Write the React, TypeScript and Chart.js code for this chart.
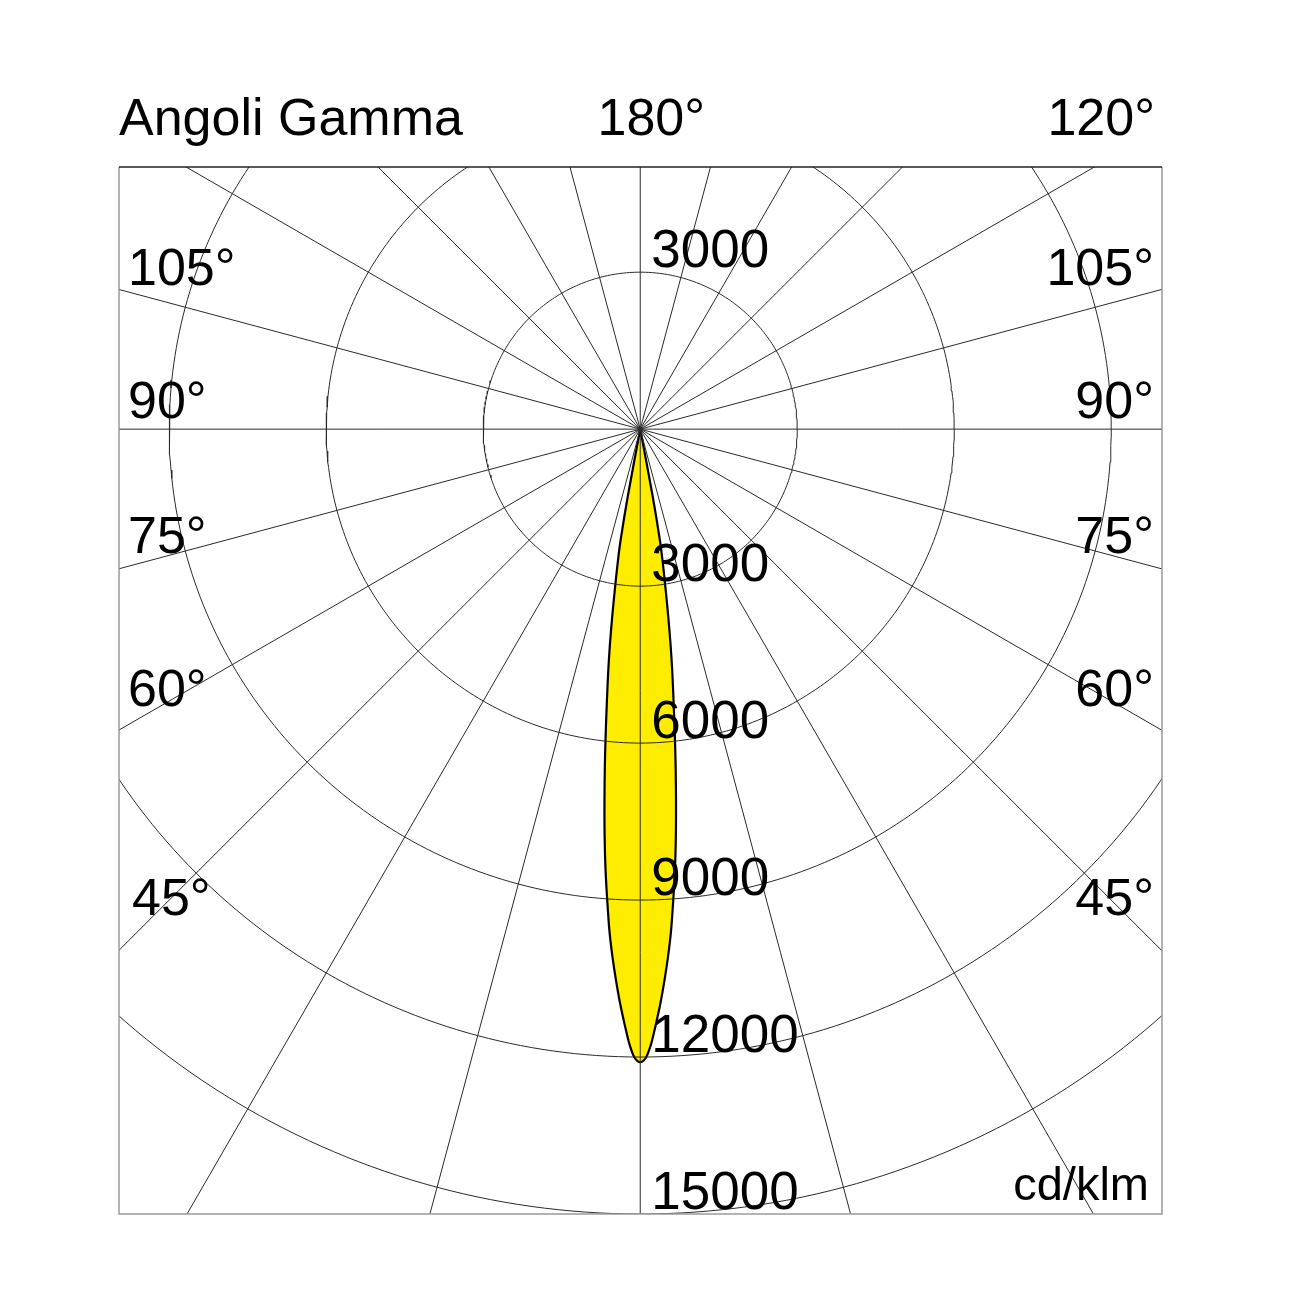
import React, { useEffect, useRef } from "react";
import { Chart, registerables } from "chart.js";

Chart.register(...registerables);

// Photometric curve: gamma angle (deg) and intensity (cd/klm)
const gammaAngles = [
  -11, -10.5, -10, -9.5, -9, -8.5, -8, -7.5, -7, -6.5, -6, -5.5, -5, -4.5, -4, -3.5, -3, -2.5, -2, -1.5, -1, -0.5,
  0,
  0.5, 1, 1.5, 2, 2.5, 3, 3.5, 4, 4.5, 5, 5.5, 6, 6.5, 7, 7.5, 8, 8.5, 9, 9.5, 10, 10.5, 11,
];
const intensities = [
  0, 1300, 2200, 2650, 3100, 3620, 4170, 4700, 5220, 5820, 6470, 7130, 7810, 8450, 9035, 9620, 10110, 10560, 10990, 11380, 11760, 12020,
  12100,
  12020, 11760, 11380, 10990, 10560, 10110, 9620, 9035, 8450, 7810, 7130, 6470, 5820, 5220, 4700, 4170, 3620, 3100, 2650, 2200, 1300, 0,
];

// Grid
const ringValues = [3000, 6000, 9000, 12000, 15000];
const ringLabels = ["3000", "6000", "9000", "12000", "15000"];
const spokeAngles = [0, 15, 30, 45, 60, 75, 90, 105, 120, 135, 150, 165];

// Text
const titleText = "Angoli Gamma";
const topCenterLabel = "180°";
const topRightLabel = "120°";
const sideAngleLabels = ["105°", "90°", "75°", "60°", "45°"];
const unitLabel = "cd/klm";

const FONT = '"Liberation Sans", Arial, Helvetica, sans-serif';

export default function App() {
  const ref = useRef<HTMLCanvasElement | null>(null);

  useEffect(() => {
    document.body.style.margin = "0";
    const canvas = ref.current;
    if (!canvas) return;

    const toRad = (d: number) => (d * Math.PI) / 180;

    const beamPoints = gammaAngles.map((g, i) => ({
      x: intensities[i] * Math.sin(toRad(g)),
      y: -intensities[i] * Math.cos(toRad(g)),
    }));

    const gridStyle = {
      showLine: true,
      pointRadius: 0,
      borderColor: "#2a2a2a",
      borderWidth: 1,
      tension: 0,
      fill: false,
      order: 1,
    };

    const ringSets = ringValues.map((r) => {
      const pts: { x: number; y: number }[] = [];
      for (let a = 0; a <= 360; a += 1) {
        pts.push({ x: r * Math.cos(toRad(a)), y: r * Math.sin(toRad(a)) });
      }
      return { ...gridStyle, label: "ring " + r, data: pts };
    });

    const L = 25000;
    const spokeSets = spokeAngles.map((a) => ({
      ...gridStyle,
      label: "spoke " + a,
      data: [
        { x: -L * Math.sin(toRad(a)), y: -L * Math.cos(toRad(a)) },
        { x: L * Math.sin(toRad(a)), y: L * Math.cos(toRad(a)) },
      ],
    }));

    const beamSet = {
      label: "beam",
      data: beamPoints,
      showLine: true,
      pointRadius: 0,
      borderColor: "#000000",
      borderWidth: 2.2,
      backgroundColor: "#FFED00",
      fill: "shape",
      tension: 0.3,
      order: 5,
    };

    const labelPlugin = {
      id: "labels",
      afterDatasetsDraw(chart: any) {
        const { ctx, chartArea, scales } = chart;
        const xs = scales.x;
        const ys = scales.y;
        const cx = xs.getPixelForValue(0);
        ctx.save();
        // frame
        ctx.lineWidth = 1.5;
        ctx.strokeStyle = "#9a9a9a";
        ctx.beginPath();
        ctx.moveTo(chartArea.left, chartArea.top);
        ctx.lineTo(chartArea.left, chartArea.bottom);
        ctx.lineTo(chartArea.right, chartArea.bottom);
        ctx.lineTo(chartArea.right, chartArea.top);
        ctx.stroke();
        ctx.strokeStyle = "#222222";
        ctx.beginPath();
        ctx.moveTo(chartArea.left, chartArea.top);
        ctx.lineTo(chartArea.right, chartArea.top);
        ctx.stroke();

        ctx.fillStyle = "#000000";
        ctx.textBaseline = "alphabetic";
        ctx.font = `52px ${FONT}`;
        // top row
        const topBase = chartArea.top - 32;
        ctx.textAlign = "left";
        ctx.fillText(titleText, chartArea.left, topBase);
        ctx.textAlign = "center";
        ctx.fillText(topCenterLabel, cx + 11, topBase);
        ctx.textAlign = "right";
        ctx.fillText(topRightLabel, chartArea.right - 7, topBase);

        // side angle labels
        const sideOffsets = [118, 251, 386, 539, 748];
        sideAngleLabels.forEach((t, i) => {
          const y = chartArea.top + sideOffsets[i];
          ctx.textAlign = "left";
          ctx.fillText(t, chartArea.left + (i === 4 ? 13 : 9), y);
          ctx.textAlign = "right";
          ctx.fillText(t, chartArea.right - 8, y);
        });

        // intensity labels
        ctx.font = `53px ${FONT}`;
        ctx.textAlign = "left";
        ctx.fillText(ringLabels[0], cx + 11, ys.getPixelForValue(ringValues[0]) - 5);
        ringValues.forEach((r, i) => {
          ctx.fillText(ringLabels[i], cx + 11, ys.getPixelForValue(-r) - 5);
        });

        // unit
        ctx.font = `47px ${FONT}`;
        ctx.textAlign = "right";
        ctx.fillText(unitLabel, chartArea.right - 13, chartArea.bottom - 14);
        ctx.restore();
      },
    };

    const chart = new Chart(canvas, {
      type: "scatter",
      data: { datasets: [beamSet as any, ...ringSets, ...spokeSets] },
      options: {
        animation: false,
        responsive: false,
        maintainAspectRatio: false,
        layout: { padding: { left: 119, top: 167, right: 140, bottom: 88 } },
        plugins: { legend: { display: false }, tooltip: { enabled: false } },
        scales: {
          x: { type: "linear", min: -9960, max: 9970, display: false },
          y: { type: "linear", min: -15000, max: 5010, display: false },
        },
      },
      plugins: [labelPlugin],
    });

    return () => chart.destroy();
  }, []);

  return (
    <div style={{ width: 1302, height: 1302, background: "#ffffff" }}>
      <canvas ref={ref} width={1302} height={1302} style={{ display: "block" }} />
    </div>
  );
}
